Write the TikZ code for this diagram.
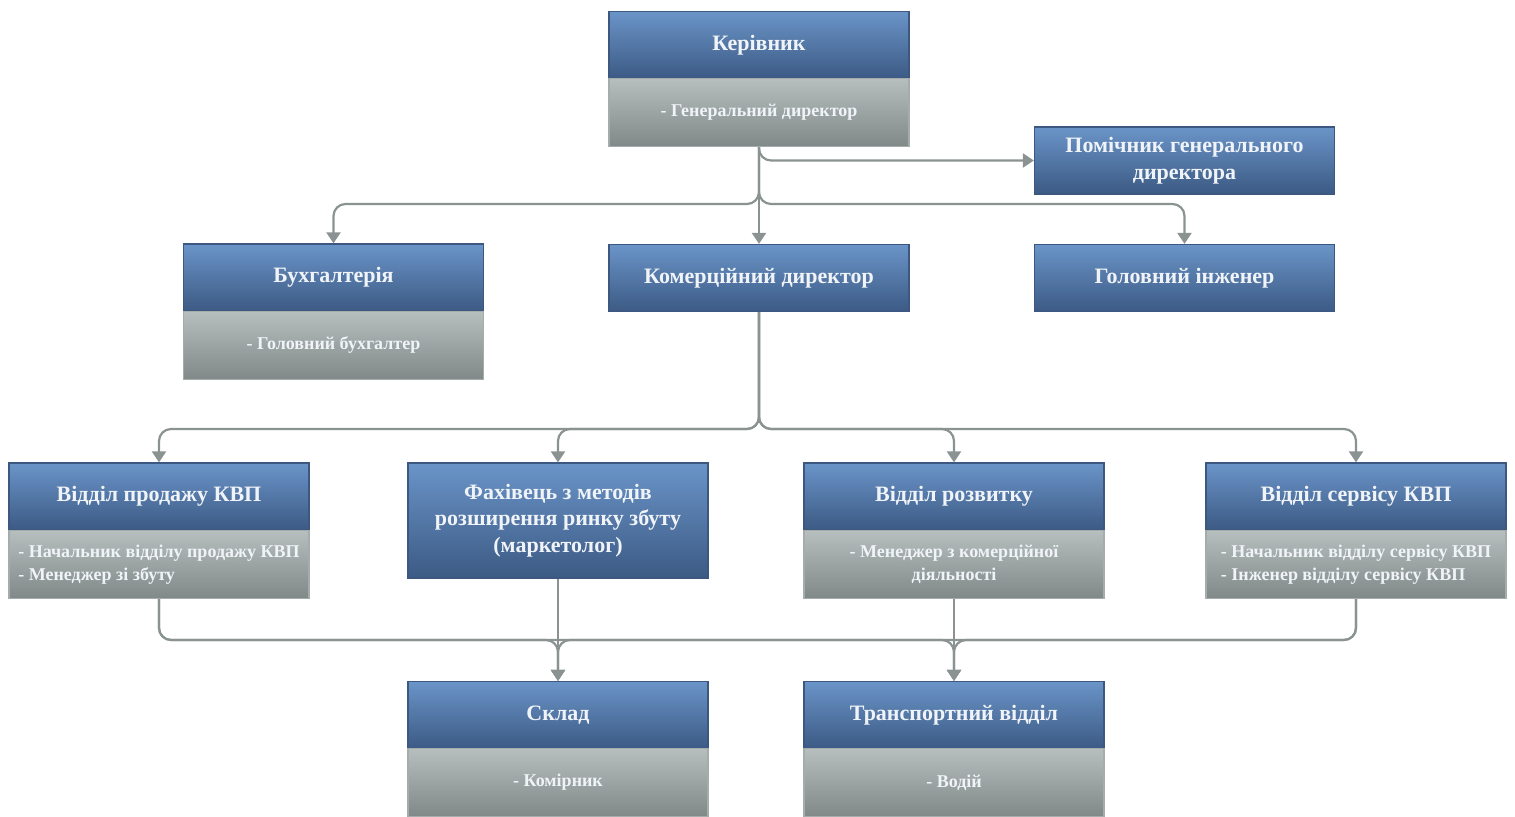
\documentclass[tikz,border=0pt]{standalone}
\usepackage{fontspec}
\setmainfont{Liberation Serif}
\usetikzlibrary{arrows.meta}
\definecolor{hdtop}{RGB}{106,148,200}
\definecolor{hdbot}{RGB}{60,90,132}
\definecolor{sbtop}{RGB}{182,190,190}
\definecolor{sbbot}{RGB}{128,136,136}
\definecolor{lnk}{RGB}{138,146,146}
\definecolor{txt}{RGB}{240,244,248}
\definecolor{hdedge}{RGB}{60,88,128}
\definecolor{sbedge}{RGB}{165,172,172}
\tikzset{
  hdr/.style={draw=hdedge, line width=0.6pt, top color=hdtop, bottom color=hdbot,
    minimum width=150pt, minimum height=33.5pt, inner sep=1pt, text=txt,
    font=\fontsize{11}{13.3}\selectfont\bfseries, align=center},
  sub/.style={draw=sbedge, line width=0.6pt, top color=sbtop, bottom color=sbbot,
    minimum width=150pt, minimum height=34pt, inner sep=1pt, text=txt,
    font=\fontsize{9}{11.5}\selectfont\bfseries, align=center},
  link/.style={draw=lnk, line width=1.1pt, rounded corners=6pt,
    -{Triangle[width=7pt,length=5.5pt]}},
}
\begin{document}
\begin{tikzpicture}[x=0.5pt,y=-0.5pt]
\useasboundingbox (0,0) rectangle (1515,817);
\node[hdr] (ker) at (759,45) {Керівник};
\node[sub] (kers) at (759,112.5) {- Генеральний директор};
\node[hdr] (pom) at (1184.5,160.5) {Помічник генерального\\директора};
\node[hdr] (buh) at (333.5,277.5) {Бухгалтерія};
\node[sub] (buhs) at (333.5,345.5) {- Головний бухгалтер};
\node[hdr] (kom) at (759,278) {Комерційний директор};
\node[hdr] (gol) at (1184.5,278) {Головний інженер};
\node[hdr] (prod) at (159,496.5) {Відділ продажу КВП};
\node[sub, align=left] (prods) at (159,564.5) {- Начальник відділу продажу КВП\\- Менеджер зі збуту};
\node[hdr, minimum height=57.5pt] (fakh) at (558,520.5) {Фахівець з методів\\розширення ринку збуту\\(маркетолог)};
\node[hdr] (rozv) at (954,496.5) {Відділ розвитку};
\node[sub] (rozvs) at (954,564.5) {- Менеджер з комерційної\\діяльності};
\node[hdr] (serv) at (1356,496.5) {Відділ сервісу КВП};
\node[sub, align=left] (servs) at (1356,564.5) {- Начальник відділу сервісу КВП\\- Інженер відділу сервісу КВП};
\node[hdr] (skl) at (558,715) {Склад};
\node[sub] (skls) at (558,782.5) {- Комірник};
\node[hdr] (tr) at (954,715) {Транспортний відділ};
\node[sub] (trs) at (954,782.5) {- Водій};
\coordinate (bus1) at (760,204);
\coordinate (bus2) at (760,429);
\coordinate (bus3) at (760,640);
% top level
\draw[link] (kers.south) |- (pom.west);
\draw[link] (kers.south) -- (kers.south |- bus1) -| (buh.north);
\draw[link] (kers.south) -- (kom.north);
\draw[link] (kers.south) -- (kers.south |- bus1) -| (gol.north);
% second level
\draw[link] (kom.south) -- (kom.south |- bus2) -| (prod.north);
\draw[link] (kom.south) -- (kom.south |- bus2) -| (fakh.north);
\draw[link] (kom.south) -- (kom.south |- bus2) -| (rozv.north);
\draw[link] (kom.south) -- (kom.south |- bus2) -| (serv.north);
% third level
\draw[link] (prods.south) -- (prods.south |- bus3) -| (tr.north);
\draw[link] (servs.south) -- (servs.south |- bus3) -| (skl.north);
\draw[link] (prods.south) -- (prods.south |- bus3) -| (skl.north);
\draw[link] (servs.south) -- (servs.south |- bus3) -| (tr.north);
\draw[link] (fakh.south) -- (skl.north);
\draw[link] (rozvs.south) -- (tr.north);
\end{tikzpicture}
\end{document}
